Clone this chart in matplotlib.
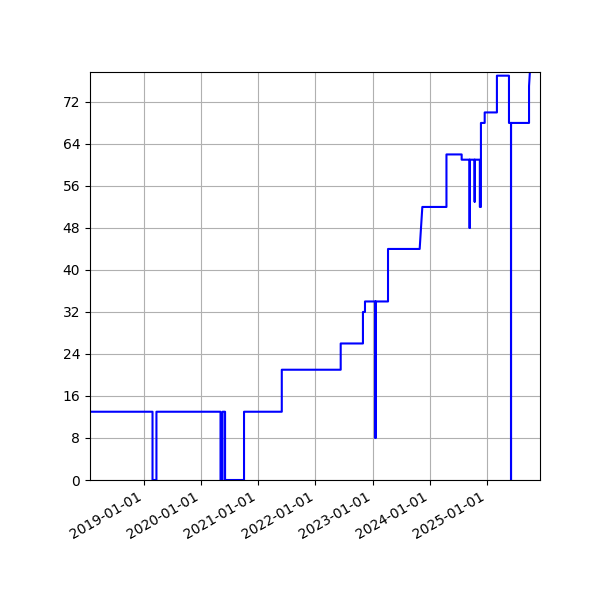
import matplotlib
matplotlib.use("Agg")
import matplotlib.pyplot as plt
import matplotlib.dates as mdates
from matplotlib.ticker import MultipleLocator
import pandas as pd

dates = [
    "2018-01-24", "2019-02-27", "2019-02-27", "2019-03-24", "2019-03-24",
    "2020-05-06", "2020-05-06", "2020-05-19", "2020-05-19", "2020-06-04",
    "2020-06-04", "2020-10-03", "2020-10-03", "2021-06-01", "2021-06-01",
    "2022-06-12", "2022-06-12", "2022-11-01", "2022-11-01", "2022-11-14",
    "2022-11-14", "2023-01-20", "2023-01-20", "2023-01-20", "2023-04-10",
    "2023-04-10", "2023-10-29", "2023-11-15", "2024-04-17", "2024-04-17",
    "2024-07-23", "2024-07-23", "2024-09-12", "2024-09-12", "2024-09-12",
    "2024-10-14", "2024-10-14", "2024-10-14", "2024-11-16", "2024-11-16",
    "2024-11-23", "2024-11-23", "2024-12-17", "2024-12-17", "2025-03-05",
    "2025-03-05", "2025-05-21", "2025-05-21", "2025-06-03", "2025-06-03",
    "2025-06-03", "2025-09-26", "2025-09-26", "2025-10-06",
]
values = [
    13, 13, 0, 0, 13,
    13, 0, 0, 13, 13,
    0, 0, 13, 13, 21,
    21, 26, 26, 32, 32,
    34, 34, 8, 34, 34,
    44, 44, 52, 52, 62,
    62, 61, 61, 48, 61,
    61, 53, 61, 61, 52,
    52, 68, 68, 70, 70,
    77, 77, 68, 68, 0,
    68, 68, 75, 80,
]
x_limits = ["2018-01-24", "2025-12-05"]
y_limits = [0, 77.7]

x = pd.to_datetime(dates)

fig = plt.figure(figsize=(6, 6), dpi=100)
ax = fig.add_axes([0.15, 0.2, 0.75, 0.68])
ax.plot(x, values, color="blue", linewidth=1.5)
ax.set_xlim(pd.to_datetime(x_limits[0]), pd.to_datetime(x_limits[1]))
ax.set_ylim(*y_limits)
ax.yaxis.set_major_locator(MultipleLocator(8))
ax.xaxis.set_major_locator(mdates.YearLocator())
ax.xaxis.set_major_formatter(mdates.DateFormatter("%Y-%m-%d"))
ax.grid(True)
for lbl in ax.get_xticklabels():
    lbl.set_rotation(30)
    lbl.set_ha("right")
fig.savefig("out.png", dpi=100)
